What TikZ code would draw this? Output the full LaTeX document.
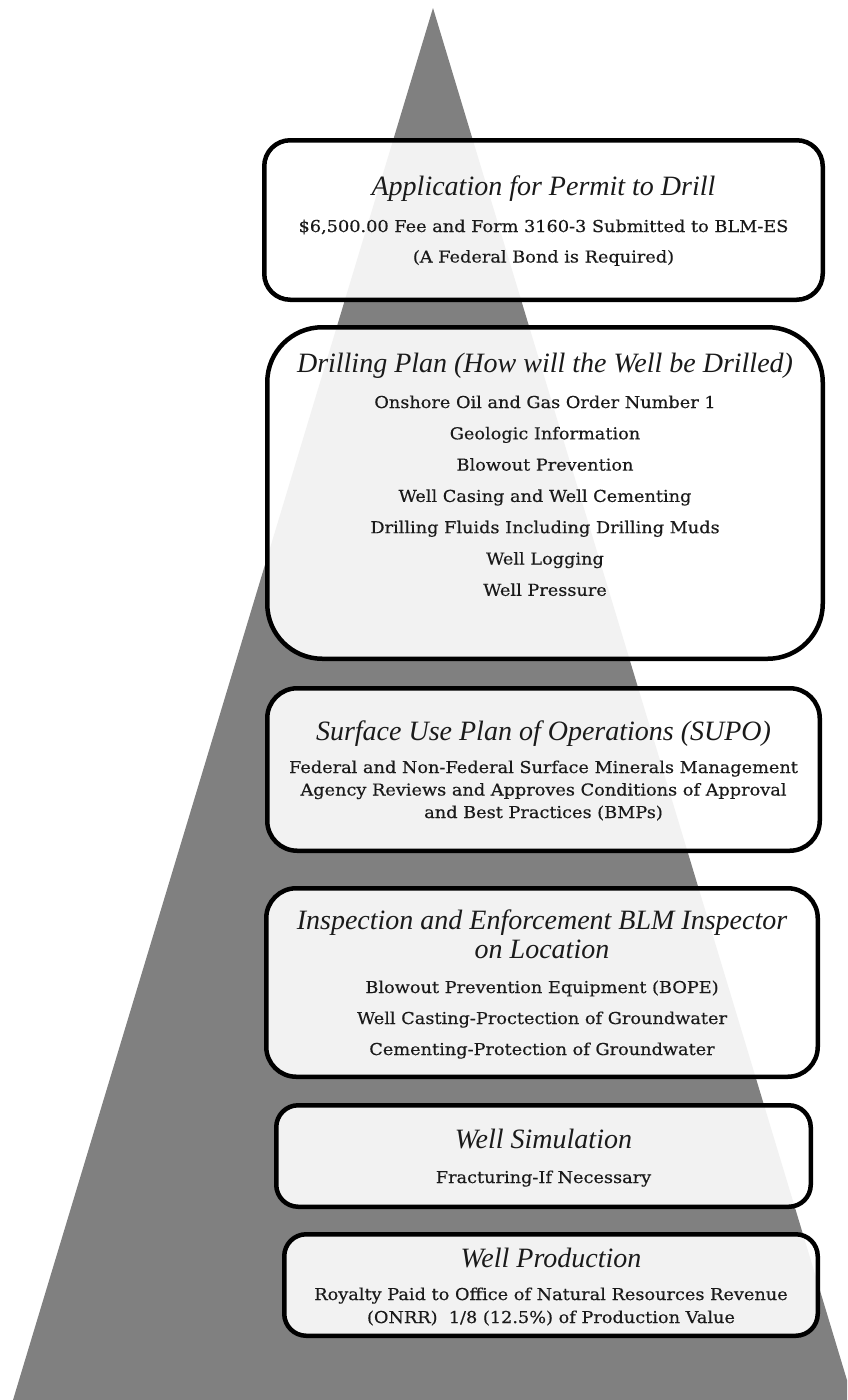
\documentclass[tikz,border=0pt]{standalone}
\usepackage{fontspec}
\setmainfont{DejaVu Serif}
\newfontfamily\bodyfont[FakeStretch=1.08,FakeBold=0.45]{DejaVu Serif}
\newfontfamily\titlefont{Liberation Serif}
\definecolor{trigray}{HTML}{808080}
\definecolor{inkcol}{HTML}{1A1A1A}
\tikzset{
  box/.style={draw=black, line width=4.5pt, fill=white, fill opacity=0.9, text opacity=1, inner sep=0pt},
  ttl/.style={anchor=base, text=inkcol, font=\titlefont\itshape\fontsize{28}{30}\selectfont, inner sep=0pt},
  bdy/.style={anchor=base, text=inkcol, font=\bodyfont\fontsize{16.4}{20}\selectfont, inner sep=0pt},
}
\begin{document}
\begin{tikzpicture}[x=1pt,y=-1pt]
\useasboundingbox (0,0) rectangle (847,1400);
\fill[white] (0,0) rectangle (847,1400);
\begin{scope}
  \clip (0,0) rectangle (847,1400);
  \fill[trigray] (433,8) -- (853,1400) -- (13,1400) -- cycle;
\end{scope}

% boxes
\node[box, minimum width=558.5pt, minimum height=159.5pt, rounded corners=26pt] (b1) at (543.5,220) {};
\node[box, minimum width=555.5pt, minimum height=331.5pt, rounded corners=55pt] (b2) at (545,493) {};
\node[box, minimum width=552.5pt, minimum height=162.5pt, rounded corners=30pt] (b3) at (543.5,769.5) {};
\node[box, minimum width=551.5pt, minimum height=188.5pt, rounded corners=30pt] (b4) at (542,982.5) {};
\node[box, minimum width=534.5pt, minimum height=101.5pt, rounded corners=22pt] (b5) at (543.5,1156) {};
\node[box, minimum width=533.5pt, minimum height=101.5pt, rounded corners=22pt] (b6) at (551,1285) {};

% box 1
\node[ttl] (t1) at (543.5,195) {Application for Permit to Drill};
\node[bdy] (t1a) at (543.5,232) {\$6,500.00 Fee and Form 3160-3 Submitted to BLM-ES};
\node[bdy] (t1b) at (543.5,262.5) {(A Federal Bond is Required)};

% box 2
\node[ttl] (t2) at (545,372) {Drilling Plan (How will the Well be Drilled)};
\node[bdy] (t2a) at (545,408) {Onshore Oil and Gas Order Number 1};
\node[bdy] (t2b) at (545,439.3) {Geologic Information};
\node[bdy] (t2c) at (545,470.6) {Blowout Prevention};
\node[bdy] (t2d) at (545,501.9) {Well Casing and Well Cementing};
\node[bdy] (t2e) at (545,533.2) {Drilling Fluids Including Drilling Muds};
\node[bdy] (t2f) at (545,564.5) {Well Logging};
\node[bdy] (t2g) at (545,595.8) {Well Pressure};

% box 3
\node[ttl] (t3) at (543.5,740) {Surface Use Plan of Operations (SUPO)};
\node[bdy] (t3a) at (543.5,773) {Federal and Non-Federal Surface Minerals Management};
\node[bdy] (t3b) at (543.5,795.5) {Agency Reviews and Approves Conditions of Approval};
\node[bdy] (t3c) at (543.5,818) {and Best Practices (BMPs)};

% box 4
\node[ttl] (t4) at (542,929) {Inspection and Enforcement BLM Inspector};
\node[ttl] (t4x) at (542,958) {on Location};
\node[bdy] (t4a) at (542,993) {Blowout Prevention Equipment (BOPE)};
\node[bdy] (t4b) at (542,1024) {Well Casting-Proctection of Groundwater};
\node[bdy] (t4c) at (542,1055) {Cementing-Protection of Groundwater};

% box 5
\node[ttl] (t5) at (543.5,1148) {Well Simulation};
\node[bdy] (t5a) at (543.5,1183) {Fracturing-If Necessary};

% box 6
\node[ttl] (t6) at (551,1267) {Well Production};
\node[bdy] (t6a) at (551,1300) {Royalty Paid to Office of Natural Resources Revenue};
\node[bdy] (t6b) at (551,1323) {(ONRR)\ \ 1/8 (12.5\%) of Production Value};
\end{tikzpicture}
\end{document}
